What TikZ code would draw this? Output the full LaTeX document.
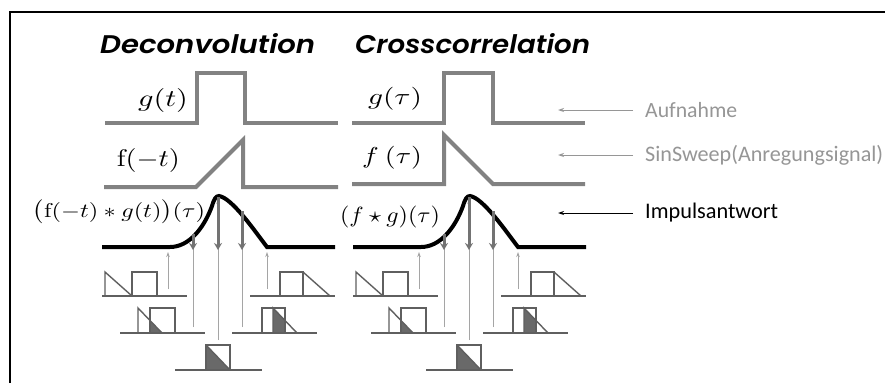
\documentclass[tikz,border=0pt]{standalone}
\usepackage[no-math]{fontspec}
\usepackage{graphicx}
\setmainfont{Carlito}
\newfontfamily\titlefont{Poppins SemiBold Italic}
\usetikzlibrary{arrows.meta}
\definecolor{sigc}{RGB}{130,130,130}
\definecolor{thinc}{RGB}{165,165,165}
\definecolor{diagc}{RGB}{95,95,95}
\definecolor{shadec}{RGB}{105,105,105}
\definecolor{valc}{RGB}{115,115,115}
\definecolor{labc}{RGB}{150,150,150}
\tikzset{
  sig/.style={draw=sigc,line width=4pt,line join=miter},
  curve/.style={draw=black,line width=4pt},
  diag/.style={draw=diagc,line width=1.4pt},
  shade/.style={fill=shadec},
  thinarrow/.style={draw=thinc,line width=1pt,-{Stealth[length=5pt,width=3.5pt]}},
  valarrow/.style={draw=valc,line width=3pt,-{Stealth[length=7pt,width=8pt]}},
  lab/.style={inner sep=0pt,anchor=west},
  labarrow/.style={line width=1pt,-{Stealth[length=6pt,width=4pt]}},
  mlab/.style={inner sep=0pt},
  ttl/.style={inner sep=0pt,anchor=south west}
}
\newcommand\lowerpart{%
  % small diagrams
  \fill[shade] (150,320.5) -- (162,333) -- (150,333) -- cycle;
  \fill[shade] (273,308) -- (273,333) -- (285,333) -- (285,320.5) -- cycle;
  \fill[shade] (206,345) -- (206,370) -- (230,370) -- cycle;
  % row 1
  \draw[diag] (102,296) -- (187,296);
  \draw[diag] (105,296) -- (105,272) -- (132,296);
  \draw[diag] (132,296) -- (132,272) -- (157,272) -- (157,296);
  \draw[diag] (250,296) -- (335,296);
  \draw[diag] (280,296) -- (280,272) -- (303,272) -- (303,296);
  \draw[diag] (303,272) -- (330,296);
  % row 2
  \draw[diag] (120,333) -- (205,333);
  \draw[diag] (138,333) -- (138,308) -- (162,333);
  \draw[diag] (150,333) -- (150,308) -- (175,308) -- (175,333);
  \draw[diag] (232,333) -- (317,333);
  \draw[diag] (262,333) -- (262,308) -- (285,308) -- (285,333);
  \draw[diag] (273,333) -- (273,308) -- (297,333);
  % row 3
  \draw[diag] (175,370) -- (262,370);
  \draw[diag] (206,370) -- (206,345) -- (230,345) -- (230,370);
  \draw[diag] (206,345) -- (230,370);
  % thin arrows
  \draw[thinarrow] (168,289) -- (168,252);
  \draw[thinarrow] (193,327) -- (193,236);
  \draw[thinarrow] (218,340) -- (218,199);
  \draw[thinarrow] (242,327) -- (242,211);
  \draw[thinarrow] (267,289) -- (267,252);
  % curve
  \draw[curve] (102,247) -- (170,247) .. controls (189,247) and (204,228) .. (212,206)
     .. controls (214,199) and (216,196) .. (219,196)
     .. controls (232,198) and (254,230) .. (267,247) -- (335,247);
  % value arrows
  \draw[valarrow] (193,234) -- (193,250);
  \draw[valarrow] (218,197) -- (218,250);
  \draw[valarrow] (242,211) -- (242,250);
}
\begin{document}
\begin{tikzpicture}[x=1pt,y=-1pt]
\useasboundingbox (0,0) rectangle (885,383);
\fill[white] (0,0) rectangle (885,383);
% frame
\draw[line width=2.5pt] (10,383) -- (10,12) -- (885,12);
% titles
\node[ttl] (t1) at (100,54) {\resizebox{215pt}{20pt}{\titlefont Deconvolution}};
\node[ttl] (t2) at (355,54) {\resizebox{235pt}{20pt}{\titlefont Crosscorrelation}};
% top signals left
\draw[sig] (105,123) -- (197,123) -- (197,73) -- (245,73) -- (245,123) -- (338,123);
\draw[sig] (104,187) -- (196,187) -- (243,140) -- (243,187) -- (338,187);
% top signals right
\draw[sig] (352,123) -- (444,123) -- (444,73) -- (493,73) -- (493,123) -- (585,123);
\draw[sig] (352,184) -- (444,184) -- (444,135) -- (493,184) -- (585,184);
% math labels
\node[mlab] (gt) at (163,100) {\resizebox*{50pt}{24pt}{$g(t)$}};
\node[mlab] (fmt) at (148.5,160) {\resizebox*{63pt}{24pt}{$\mathrm{f}(-t)$}};
\node[mlab] (gtau) at (395,99) {\resizebox*{54pt}{23pt}{$g(\tau)$}};
\node[mlab] (ftau) at (392,158) {\resizebox*{60pt}{23pt}{$f\ (\tau)$}};
\node[mlab] (conv) at (119,212) {\resizebox*{172pt}{24pt}{$\bigl(\mathrm{f}(-t)\ast g(t)\bigr)(\tau)$}};
\node[mlab] (corr) at (390,217) {\resizebox*{100pt}{22pt}{$(f\star g)(\tau)$}};
% lower parts
\lowerpart
\begin{scope}[xshift=251pt]
\lowerpart
\end{scope}
% side labels
\node[lab,text=labc] (aufn) at (645,110) {\resizebox{92pt}{!}{Aufnahme}};
\node[lab,text=labc] (sweep) at (645,155) {\resizebox{238pt}{!}{SinSweep(Anregungsignal)}};
\node[lab,text=black] (imp) at (645,213) {\resizebox{133pt}{!}{Impulsantwort}};
\coordinate (aufnTip) at (558,110);
\coordinate (sweepTip) at (558,155);
\coordinate (impTip) at (558,213);
\draw[labarrow,draw=labc] ([xshift=-12pt]aufn.west) -- (aufnTip);
\draw[labarrow,draw=labc] ([xshift=-12pt]sweep.west) -- (sweepTip);
\draw[labarrow,draw=black] ([xshift=-12pt]imp.west) -- (impTip);
\end{tikzpicture}
\end{document}
